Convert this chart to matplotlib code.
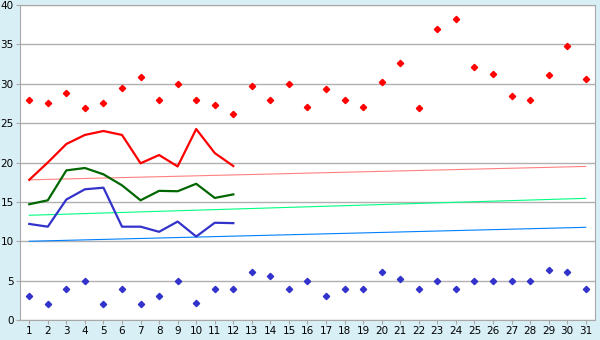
import matplotlib
matplotlib.use("Agg")
import matplotlib.pyplot as plt

# Дні місяця
days = list(range(1, 32))

# Максимуми (червоні точки)
max_points = [27.9, 27.5, 28.8, 26.9, 27.6, 29.5, 30.8, 28.0, 30.0, 28.0,
              27.3, 26.2, 29.7, 28.0, 30.0, 27.0, 29.3, 28.0, 27.0, 30.2,
              32.6, 26.9, 37.0, 38.2, 32.1, 31.3, 28.5, 28.0, 31.1, 34.75, 30.6]

# Мінімуми (сині точки)
min_points = [3.0, 2.0, 4.0, 5.0, 2.0, 4.0, 2.0, 3.0, 5.0, 2.2,
              3.9, 3.9, 6.05, 5.55, 4.0, 5.0, 3.0, 3.9, 4.0, 6.05,
              5.2, 3.9, 5.0, 3.9, 5.0, 5.0, 5.0, 5.0, 6.4, 6.05, 3.9]

# Лінії для перших 12 днів
line_days = list(range(1, 13))
red_line = [17.8, 20.0, 22.35, 23.5, 24.0, 23.5, 19.9, 20.95, 19.5, 24.25, 21.2, 19.55]
green_line = [14.7, 15.2, 19.0, 19.3, 18.5, 17.1, 15.2, 16.4, 16.35, 17.3, 15.5, 15.95]
blue_line = [12.2, 11.85, 15.3, 16.6, 16.8, 11.85, 11.85, 11.2, 12.5, 10.6, 12.35, 12.3]

# Лінії тренду (початок і кінець)
trend_days = [1, 31]
red_trend = [17.8, 19.5]
green_trend = [13.3, 15.45]
blue_trend = [10.0, 11.77]

fig = plt.figure(figsize=(6, 3.4), dpi=100, facecolor="#D9EFF6")
ax = fig.add_axes([0.0333, 0.0588, 0.9584, 0.9265])
ax.set_facecolor("white")

# Тренди
ax.plot(trend_days, red_trend, color="#FF8080", lw=0.8)
ax.plot(trend_days, green_trend, color="#00FF80", lw=0.8)
ax.plot(trend_days, blue_trend, color="#0080FF", lw=0.8)

# Основні лінії
ax.plot(line_days, red_line, color="#FF0000", lw=1.6)
ax.plot(line_days, green_line, color="#006600", lw=1.6)
ax.plot(line_days, blue_line, color="#3333CC", lw=1.6)

# Точки
ax.plot(days, max_points, "D", color="#FF0000", ms=3.2, ls="none")
ax.plot(days, min_points, "D", color="#3333CC", ms=3.2, ls="none")

ax.set_xlim(0.5, 31.5)
ax.set_ylim(0, 40)
ax.set_xticks(days)
ax.set_yticks(range(0, 41, 5))
ax.grid(axis="y", color="#B0B0B0", lw=1)
ax.set_axisbelow(True)

for s in ax.spines.values():
    s.set_color("#A8A8A8")
ax.tick_params(colors="#A8A8A8", labelcolor="black", labelsize=7.5, length=3, pad=1.5)

fig.savefig("out.png", dpi=100, facecolor=fig.get_facecolor())
